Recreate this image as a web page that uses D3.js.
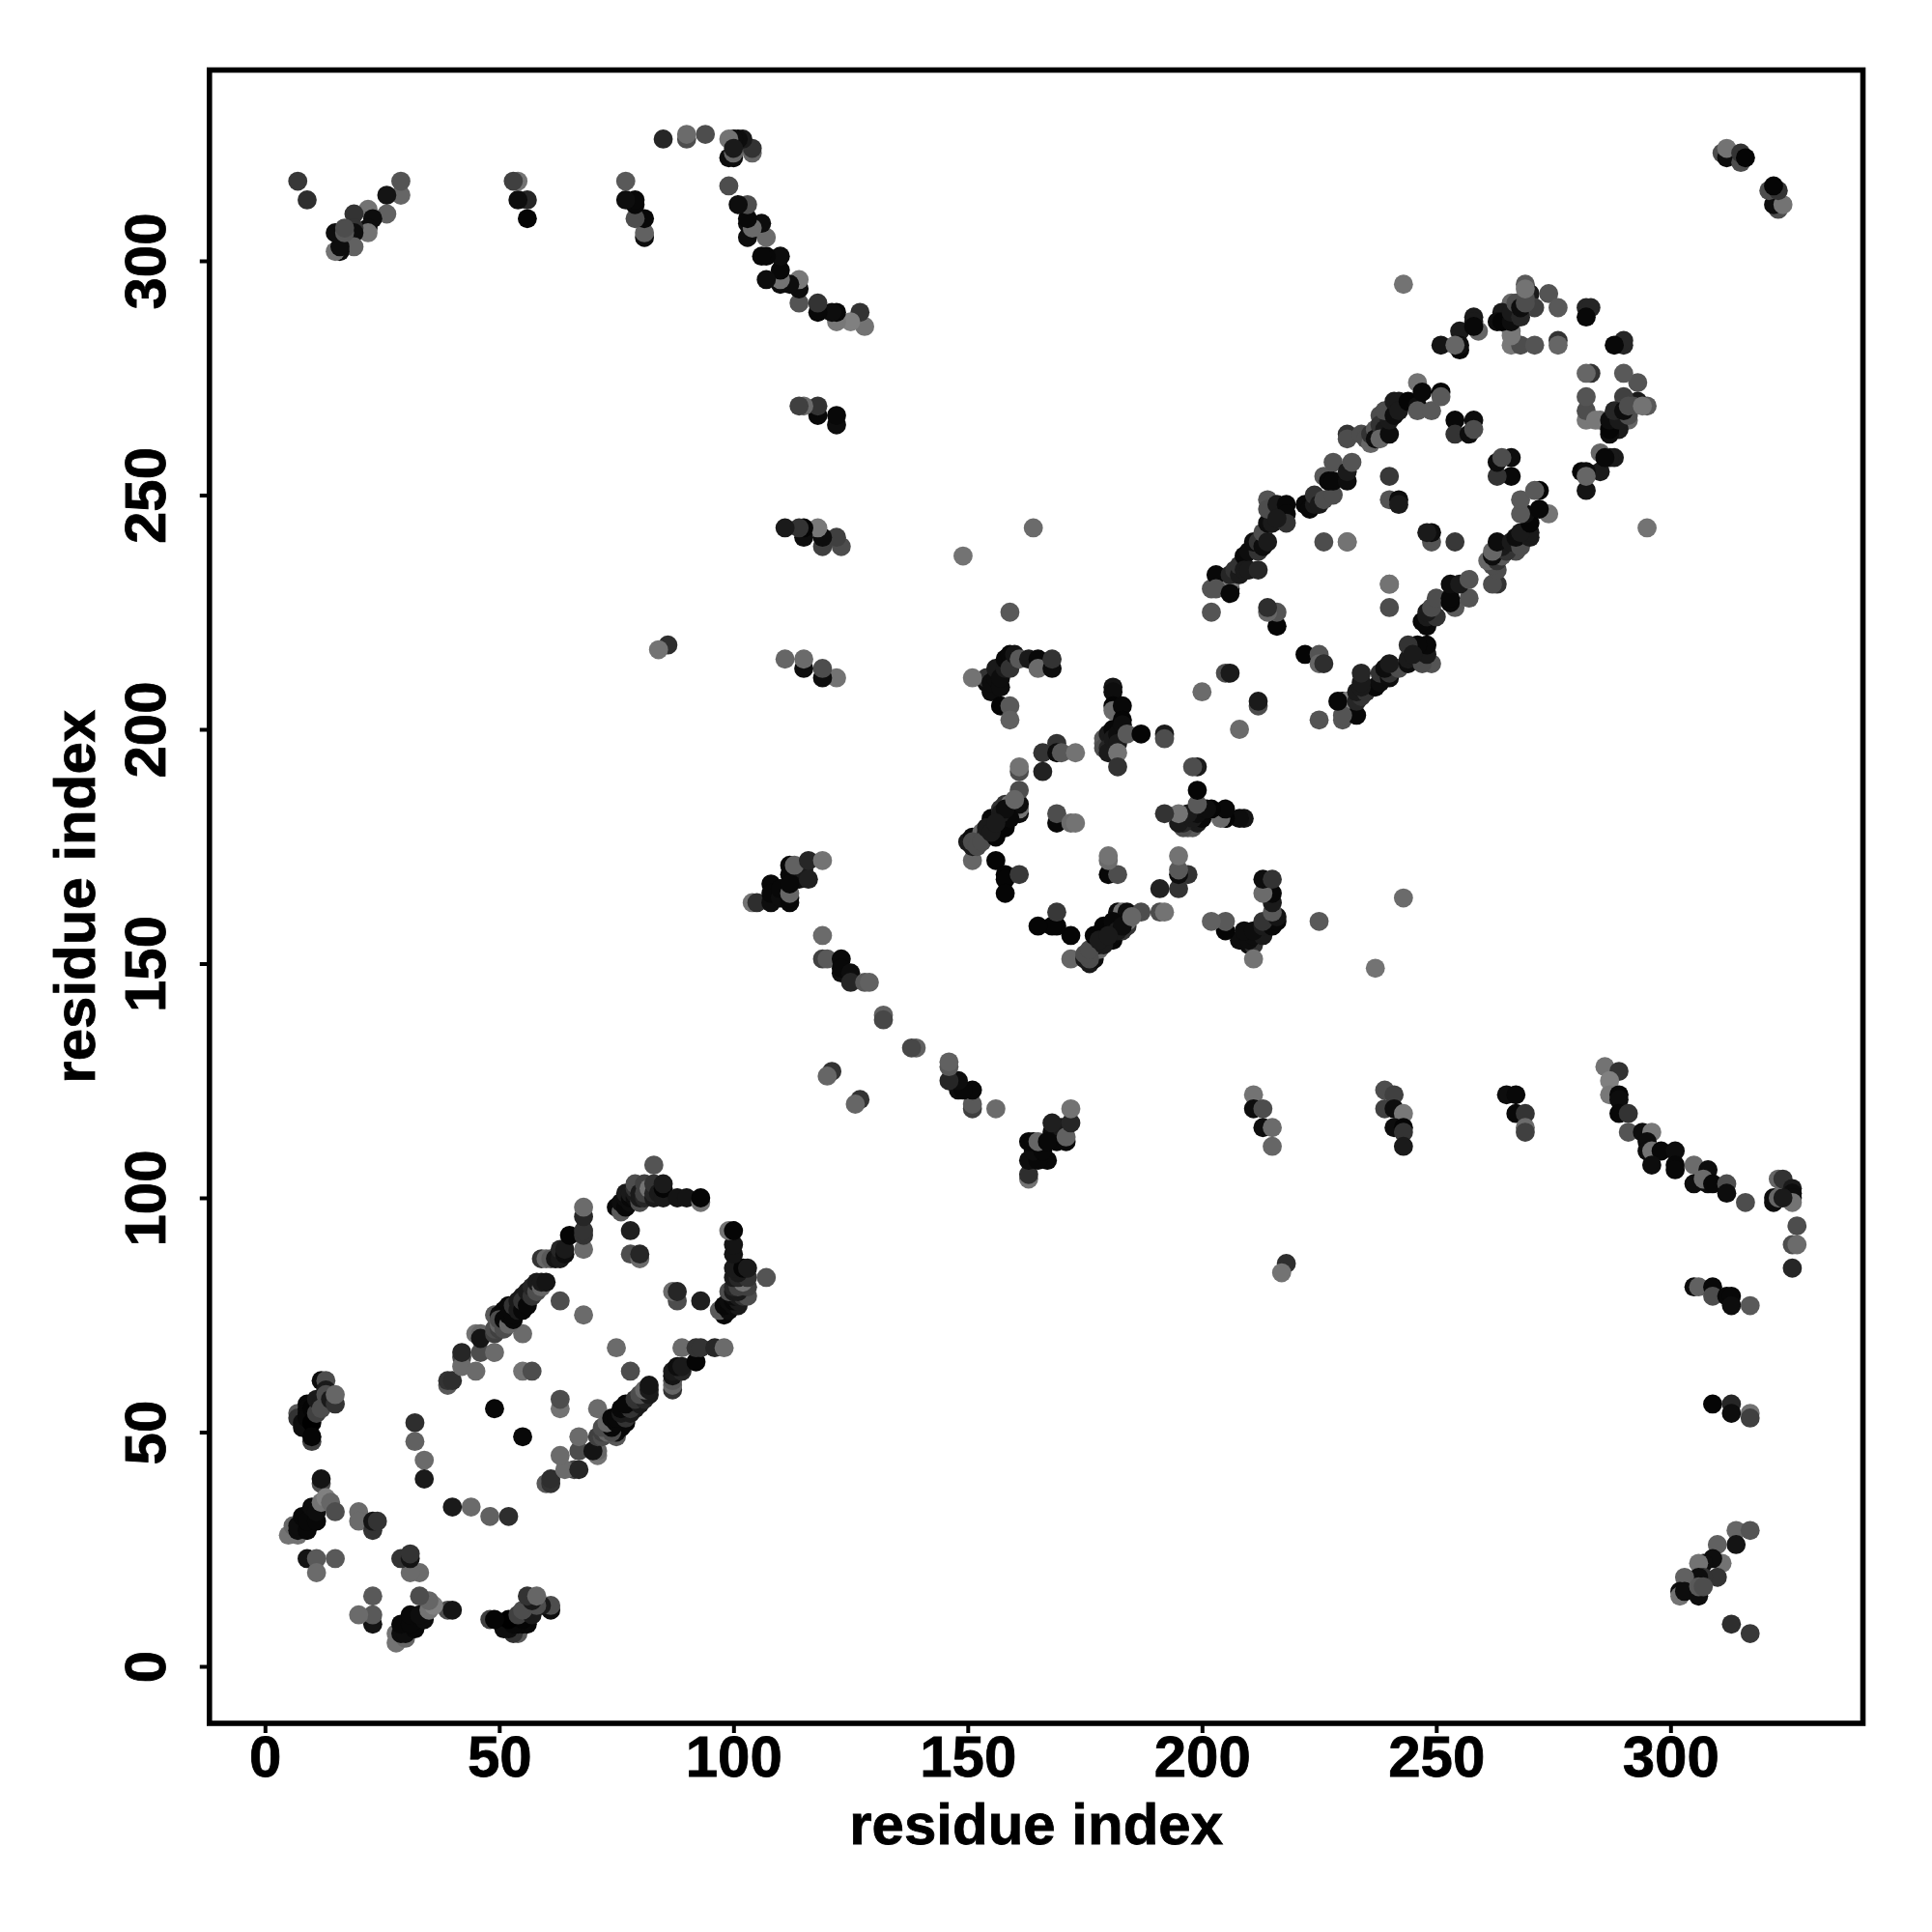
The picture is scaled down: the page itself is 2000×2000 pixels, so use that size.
<!DOCTYPE html>
<html><head><meta charset="utf-8">
<script src="https://cdn.jsdelivr.net/npm/d3@7"></script>
<style>html,body{margin:0;padding:0;background:#fff}svg{display:block}text{font-family:"Liberation Sans",Arial,sans-serif;font-weight:bold;fill:#000;stroke:#000;stroke-width:.8px}</style>
</head><body>
<svg id="c" width="2000" height="2000"></svg>
<script>
// contacts: [residue i, residue j, grey level]; the map is symmetric, both (i,j) and (j,i) are drawn
const clusterA=[[7,54,.35],[7,53,.2],[8,52,.05],[8,51,.05],[9,56,.03],[9,55,.03],[9,54,.03],[9,53,.03],[10,55,.02],[10,52,0],[10,48,.25],[10,49,.02],[11,54,.25],[11,57,.1],[12,61,.05],[12,56,.1],[12,55,.3],[13,61,.3],[13,59,.1],[13,58,.3],[14,57,.1],[15,56,.2],[15,58,.4]];
const clusterB=[[5,28,.45],[7,28,.45],[6,30,.4],[7,29,.05],[7,30,.05],[8,32,.03],[9,29,.03],[9,31,.03],[10,34,.05],[11,31,.03],[11,33,.05],[12,39,.3],[12,40,.08],[12,35,.45],[13,36,.5],[14,35,.4],[15,33,.3],[9,23,.08],[11,23,.35],[11,20,.42],[15,23,.35],[20,33,.42],[20,31,.42],[23,29,.2],[23,31,.08],[24,31,.2]];
const nearDiag=[[32,52,.18],[32,48,.38],[34,44,.42],[34,40,.1],[49,55,.03],[55,63,.45],[57,63,.3],[39,60,.35],[39,61,.2],[40,61,.18],[42,66,.28],[42,64,.42],[45,63,.42]];
const bandOne=[[42,67,.15],[46,67,.3],[49,67,.42],[45,71,.45],[46,71,.4],[46,70,.08],[55,71,.42],[49,71,.25],[49,72,.3],[49,75,.35],[50,72,.25],[50,75,.05],[51,73,.05],[51,75,.03],[51,76,.03],[52,76,.03],[52,77,.03],[53,76,.05],[54,77,.03],[55,77,.03],[55,79,.1],[56,78,.05],[56,79,.1],[57,80,.1],[58,81,.05],[50,73,.4],[50,74,.3],[51,72,.3],[51,74,.03],[52,73,.4],[52,75,.03],[53,74,.03],[53,75,.03],[53,77,.2],[54,76,.1],[54,78,.1],[55,76,.03],[55,78,.2],[56,77,.03],[56,80,.1],[57,79,.2],[57,81,.15],[58,80,.3],[58,82,.1],[59,81,.4],[59,82,.1],[60,82,.08],[63,78,.3],[68,75,.42],
[59,87,.2],[60,87,.4],[61,87,.35],[62,87,.08],[63,87,.1],[63,89,.15],[64,88,.05],[64,89,.1],[65,92,.02],[68,89,.42],[68,92,.2],[68,93,.2],[68,96,.15],[68,98,.42],
[75,98,.03],[76,97,.35],[76,99,.05],[77,98,.03],[77,100,.05],[77,101,.1],[78,99,.05],[78,100,.03],[78,101,.1],[79,100,.05],[79,101,.1],[79,102,.2],[79,103,.3],[80,99,.3],[80,100,.1],[80,101,.1],[81,100,.15],[81,101,.25],[81,103,.25],[82,102,.45],[83,100,.1],[83,101,.15],[83,103,.2],[83,107,.33],[84,101,.1],[85,100,.1],[85,102,.02],[85,103,.1],[88,100,.08],[90,100,.08],[93,99,.45],[93,100,.02],[78,93,.12],[78,88,.3],[80,87,.42],[80,88,.15]];
const sheetOne=[[151,172,.4],[150,176,.1],[151,177,.05],[151,175,.1],[152,176,.35],[152,177,.05],[153,177,.4],[153,178,.4],[154,178,.1],[155,179,.1],[155,181,.03],[156,179,.03],[156,181,.03],[157,180,.05],[157,183,.2],[158,180,.05],[158,184,.2],[159,182,.15],[159,184,.45],[160,183,.3],[161,182,.05],[161,183,.45],[161,184,.05],[161,187,.3],[161,191,.3],[161,192,.45],[156,172,.02],[158,169,.02],[158,168,.02],[158,165,.02],[161,169,.22],
[166,195,.2],[169,197,.2],[169,195,.05],[170,195,.35],[173,195,.45],[166,191,.13],[169,180,.03],[169,182,.3],[172,180,.42],[173,180,.45],
[179,198,.35],[179,197,.35],[179,196,.3],[180,199,.1],[180,196,.15],[180,195,.1],[181,200,.03],[181,198,.1],[181,209,.08],[181,208,.05],[181,205,.02],[181,204,.42],[182,199,.05],[182,197,.1],[182,195,.45],[182,192,.2],[183,205,.03],[183,202,.02],[183,201,.05],[184,199,.35],[187,199,.02],[192,199,.1],[192,198,.3]];
const sheetTwo=[[154,210,.05],[154,211,.2],[155,208,.05],[155,210,.05],[156,211,.05],[156,213,.1],[157,209,.05],[157,211,.05],[158,213,.1],[158,215,.03],[159,216,.03],[159,213,.2],[160,216,.08],[161,215,.35],[163,215,.1],[165,215,.03],[165,213,.42],[168,213,.05],[168,215,.2],[157,205,.02],[159,205,.35],[159,202,.38],[159,225,.35],[151,211,.45],
[200,208,.42],[205,212,.3],[206,212,.1],[216,222,.02],[216,225,.33],[214,225,.4],[214,226,.18],[202,225,.33],[206,230,.05],[202,230,.33],[206,231,.5],[149,237,.45],[164,243,.42]];
const arcOne=[[151,175,.1],[151,176,.3],[151,177,.02],[152,175,.3],[153,176,.3],[152,177,.1],[156,177,.02],[153,178,.4],[154,179,.1],[158,179,.02],[158,180,.03],[155,181,.03],[159,181,.03],[161,182,.05],[157,182,.1],[158,183,.05],[161,184,.1],[160,185,.4],[161,183,.3],[161,187,.25],[161,191,.35],[161,192,.45],[155,178,.1],[156,180,.1]];
const bandTwo=[[203,233,.03],[203,230,.33],[206,230,.42],[206,229,.03],[206,233,.15],[207,234,.2],[208,233,.1],[208,235,.2],[209,237,.03],[209,234,.1],[210,238,.05],[210,234,.1],[212,234,.15],[212,238,.2],[211,240,.05],[212,240,.2],[213,239,.05],[213,242,.3],[214,240,.1],[214,244,.05],[215,244,.1],[214,249,.33],[214,247,.3],[216,248,.1],[218,248,.03],[218,246,.03],[218,244,.2],[216,245,.1],
[222,248,.03],[223,247,.03],[224,248,.1],[224,250,.2],[225,248,.1],[226,249,.3],[228,250,.3],[226,254,.35],[228,257,.33],[227,253,.03],[228,253,.03],[231,253,.05],[231,255,.1],[232,257,.33],[231,263,.2],[231,262,.3],[234,263,.3],[235,262,.3],[236,261,.4],[236,263,.2],[237,264,.35],[237,262,.05],[238,267,.3],[238,265,.2],[239,264,.1],[238,262,.4],[240,263,.05],[240,266,.1],[239,268,.3],[241,267,.05],[241,270,.1],[242,270,.1],[242,268,.1],[244,270,.02],[246,269,.05],[246,274,.45],[246,268,.35],[247,272,.03],[249,268,.35],[251,272,.02],[251,271,.35],
[226,240,.3],[231,240,.45],[226,240,.33],[240,231,.45],[240,254,.22],[240,249,.33],[242,249,.05],[242,248,.1],[254,266,.03],[254,263,.2],[258,266,.05],[257,263,.05],[258,264,.3],[243,295,.45]];
const bandThree=[[269,295,.35],[270,293,.1],[274,293,.33],[276,290,.35],[271,290,.25],[269,292,.3],[268,291,.4],[268,289,.3],[266,291,.4],[267,289,.3],[266,288,.1],[264,289,.1],[263,287,.05],[265,287,.1],[266,285,.45],[266,282,.47],[268,282,.3],[271,282,.33],[276,283,.2],[276,282,.4],[282,290,.15],[283,290,.15],[282,288,.03],[251,282,.08],[255,285,.1],[255,281,.02],[255,282,.05],[258,288,.1],[258,287,.1],[259,285,.4],[276,290,.33],[274,293,.3],[271,282,.33],[268,282,.33],[266,284,.47],[264,287,.02],[266,287,.05],[266,289,.1],[268,288,.15],[267,291,.3],[268,290,.05],[269,291,.3],[269,294,.45],[258,286,.03],[254,282,.4]];
const loopC=[[104,163,.45],[105,163,.18],[108,163,.05],[108,167,.03],[108,165,.03],[110,164,.05],[110,166,.03],[112,169,.03],[114,168,.05],[115,170,.1],[112,163,.03],[112,164,.03],[112,165,.4],[112,167,.03],[112,171,.03],[113,171,.38],[116,168,.12],[116,172,.15],[119,172,.45],[119,156,.42],[119,151,.25],[120,151,.35],[123,151,.03],[123,148,.05],[123,149,.03],[125,148,.05],[125,146,.15],[128,146,.35],[129,146,.38],[132,139,.38],[132,138,.28],[121,127,.2],[120,126,.4]];
const farLeft=[[122,211,.45],[119,211,.05],[119,213,.3],[115,213,.05],[115,215,.42],[111,215,.4],[86,218,.18],[84,217,.45],[123,239,.3],[119,239,.25],[122,241,.25],[119,241,.05],[118,243,.47],[115,241,.05],[115,243,.02],[114,243,.2],[111,243,.1],[122,265,.05],[122,267,.03],[118,267,.03],[118,269,.2],[115,269,.42],[114,269,.25]];
const farRight=[[128,286,.45],[127,289,.2],[125,287,.5],[122,287,.47],[122,289,.03],[121,289,.05],[118,289,.03],[118,291,.2],[114,291,.33],[114,294,.05],[114,296,.47],[112,295,.05],[110,295,.05],[110,296,.45],[110,298,.03],[107,296,.05],[110,301,.05],[107,301,.03],[106,301,.03],[107,305,.42],[103,305,.05],[106,308,.05],[103,308,.05],[104,307,.42],[103,309,.03],[103,312,.3],[101,312,.05],[99,316,.3],
[104,323,.4],[104,324,.2],[100,322,.05],[99,322,.05],[100,323,.4],[102,326,.1],[101,326,.05],[100,326,.05],[99,326,.45],[100,324,.1],[94,327,.3],[90,326,.3],[90,327,.42],[85,326,.15],
[81,305,.05],[81,306,.38],[81,309,.03],[79,309,.3],[79,312,.03],[79,313,.03],[77,313,.05],[77,317,.35],[56,309,.02],[56,313,.15],[54,313,.05],[54,317,.45],[53,317,.25],[29,314,.4],[29,317,.33],[26,314,.08],[26,310,.38],[22,311,.45],[23,309,.05],[22,307,.05],[22,306,.45],[19,310,.2],[19,307,.2],[19,306,.05],[19,303,.38],[16,302,.05],[15,302,.45],[16,303,.05],[15,306,.05],[17,306,.35],[17,307,.3],[9,313,.18],[7,317,.22]];
const corner=[[311,323,.3],[312,322,.05],[312,324,.45],[315,321,.3],[315,323,.2],[316,322,.02]];
const xTicks=[0,50,100,150,200,250,300], yTicks=[0,50,100,150,200,250,300];
const xTitle="residue index", yTitle="residue index";

const all=[].concat(clusterA,clusterB,nearDiag,bandOne,sheetOne,sheetTwo,arcOne,bandTwo,bandThree,loopC,farLeft,farRight,corner);
const seen=new Set();
const contacts=all.filter(d=>{const k=d[0]+"-"+d[1];if(seen.has(k))return false;seen.add(k);return true;});
const marks=[];
contacts.forEach(d=>{marks.push({x:d[0],y:d[1],g:d[2]});marks.push({x:d[1],y:d[0],g:d[2]});});

const svg=d3.select("#c");
const x=d3.scaleLinear().domain([0,300]).range([274.3,1729.3]);
const y=d3.scaleLinear().domain([0,300]).range([1725,270]);
const box={l:216.8,r:1928.5,t:72.5,b:1784};

svg.append("g").selectAll("circle").data(marks).join("circle")
  .attr("cx",d=>x(d.x)).attr("cy",d=>y(d.y)).attr("r",9.9)
  .attr("fill",d=>{const v=Math.round(d.g*255);return `rgb(${v},${v},${v})`;});
svg.append("rect").attr("x",box.l).attr("y",box.t).attr("width",box.r-box.l).attr("height",box.b-box.t)
  .attr("fill","none").attr("stroke","#000").attr("stroke-width",5.6);

const ax=svg.append("g").attr("transform",`translate(0,${box.b})`).call(d3.axisBottom(x).tickValues(xTicks).tickSize(10).tickPadding(0));
ax.select(".domain").remove();
ax.selectAll("line").attr("stroke","#000").attr("stroke-width",4);
ax.selectAll("text").attr("font-size",60).attr("text-anchor","middle").attr("y",55).attr("dy",0);
const ay=svg.append("g").attr("transform",`translate(${box.l},0)`).call(d3.axisLeft(y).tickValues(yTicks).tickSize(10).tickPadding(0));
ay.select(".domain").remove();
ay.selectAll("line").attr("stroke","#000").attr("stroke-width",4);
ay.selectAll("text").attr("font-size",60).attr("text-anchor","middle").attr("x",0).attr("y",0).attr("dy",0)
  .attr("transform","translate(-46,0) rotate(-90)");
svg.append("text").attr("x",(box.l+box.r)/2).attr("y",1909).attr("text-anchor","middle").attr("font-size",60).text(xTitle);
svg.append("text").attr("transform",`translate(98,${(box.t+box.b)/2}) rotate(-90)`).attr("text-anchor","middle").attr("font-size",60).text(yTitle);
</script>
</body></html>
